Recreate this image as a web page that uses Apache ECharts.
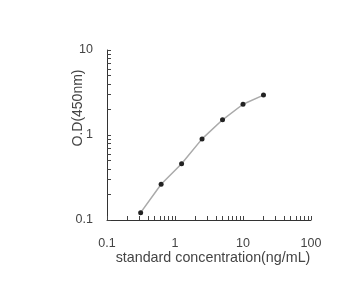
<!DOCTYPE html>
<html>
<head>
<meta charset="utf-8">
<script src="https://cdn.jsdelivr.net/npm/echarts@6/dist/echarts.min.js"></script>
<style>
html,body{margin:0;padding:0;background:#fff;}
#main{width:352px;height:293px;}
</style>
</head>
<body>
<div id="main"></div>
<script>
var concentrations = [0.3125, 0.625, 1.25, 2.5, 5, 10, 20];
var odValues = [0.122, 0.263, 0.46, 0.90, 1.51, 2.3, 2.95];
var xTickLabels = [0.1, 1, 10, 100];
var yTickLabels = [0.1, 1, 10];
var xMinorTicks = [0.1,0.2,0.3,0.4,0.5,0.6,0.7,0.8,0.9,1,2,3,4,5,6,7,8,9,10,20,30,40,50,60,70,80,90,100];
var yMinorTicks = [0.1,0.2,0.3,0.4,0.5,0.6,0.7,0.8,0.9,1,2,3,4,5,6,7,8,9,10];
var xTitle = 'standard concentration(ng/mL)';
var yTitle = 'O.D(450nm)';

var chart = echarts.init(document.getElementById('main'));
var pts = concentrations.map(function(c, i){ return [c, odValues[i]]; });
chart.setOption({
  animation: false,
  backgroundColor: '#ffffff',
  grid: {left: 107, right: 41, top: 50, bottom: 73, containLabel: false},
  xAxis: {
    type: 'log', logBase: 10, min: 0.1, max: 100,
    name: xTitle, nameLocation: 'middle', nameGap: 31, nameMoveOverlap: false,
    nameTextStyle: {fontFamily: 'Liberation Sans', fontSize: 14.3, color: '#444', padding: [0,0,0,8]},
    axisLine: {show: true, lineStyle: {color: '#333', width: 1}},
    axisTick: {show: true, inside: true, length: 4, customValues: xMinorTicks, lineStyle: {color: '#444'}},
    axisLabel: {customValues: xTickLabels, margin: 17, fontFamily: 'Liberation Sans', fontSize: 12.5, color: '#444',
      formatter: function(v){ return String(v); }},
    splitLine: {show: false}
  },
  yAxis: {
    type: 'log', logBase: 10, min: 0.1, max: 10,
    name: yTitle, nameLocation: 'middle', nameGap: 22, nameMoveOverlap: false,
    nameTextStyle: {fontFamily: 'Liberation Sans', fontSize: 14, color: '#444', padding: [0,0,0,54]},
    axisLine: {show: true, lineStyle: {color: '#333', width: 1}},
    axisTick: {show: true, inside: true, length: 4, customValues: yMinorTicks, lineStyle: {color: '#444'}},
    axisLabel: {customValues: yTickLabels, margin: 14, fontFamily: 'Liberation Sans', fontSize: 12.5, color: '#444',
      formatter: function(v){ return String(v); }},
    splitLine: {show: false}
  },
  series: [{
    type: 'line',
    data: pts,
    symbol: 'circle', symbolSize: 5,
    itemStyle: {color: '#222'},
    lineStyle: {color: '#aaa', width: 1.5}
  }]
});
</script>
</body>
</html>
